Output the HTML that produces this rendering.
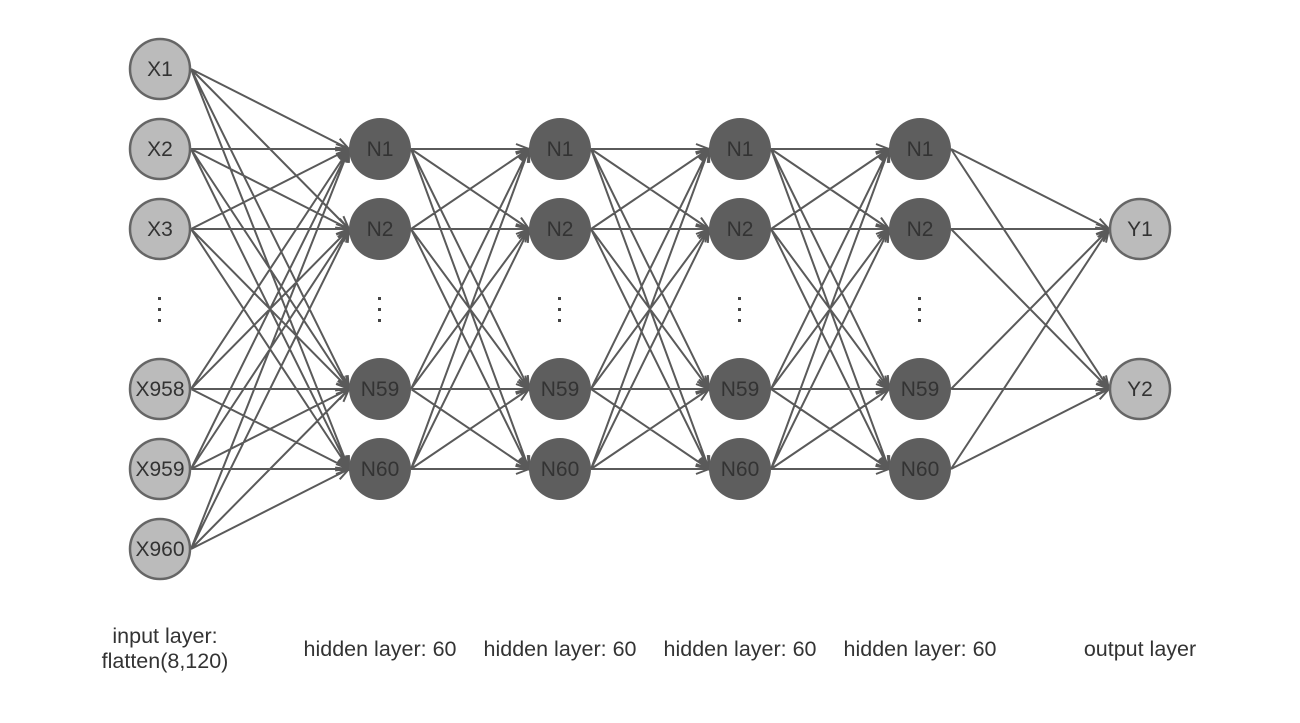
<!DOCTYPE html>
<html><head><meta charset="utf-8"><style>
html,body{margin:0;padding:0;background:#fff;width:1300px;height:723px;overflow:hidden}
svg{display:block}
text{font-family:"Liberation Sans",sans-serif}
</style></head><body>
<svg id="s" width="1300" height="723" viewBox="0 0 1300 723">
<g id="lines" stroke="#5a5a5a" stroke-width="2" fill="none"></g>
<g fill="#444">
<rect x="158" y="297" width="3" height="3"/><rect x="158" y="308" width="3" height="3"/><rect x="158" y="319" width="3" height="3"/>
<rect x="378" y="297" width="3" height="3"/><rect x="378" y="308" width="3" height="3"/><rect x="378" y="319" width="3" height="3"/>
<rect x="558" y="297" width="3" height="3"/><rect x="558" y="308" width="3" height="3"/><rect x="558" y="319" width="3" height="3"/>
<rect x="738" y="297" width="3" height="3"/><rect x="738" y="308" width="3" height="3"/><rect x="738" y="319" width="3" height="3"/>
<rect x="918" y="297" width="3" height="3"/><rect x="918" y="308" width="3" height="3"/><rect x="918" y="319" width="3" height="3"/>
</g>
<g font-size="21.5" fill="#333" text-anchor="middle">
<text x="165" y="643">input layer:</text>
<text x="165" y="668">flatten(8,120)</text>
</g>
<g font-size="21.5" fill="#333" text-anchor="middle">
<text x="380" y="656">hidden layer: 60</text>
<text x="560" y="656">hidden layer: 60</text>
<text x="740" y="656">hidden layer: 60</text>
<text x="920" y="656">hidden layer: 60</text>
<text x="1140" y="656">output layer</text>
</g>
<g font-size="21" text-anchor="middle">
<circle cx="160" cy="69" r="30" fill="#bbb" stroke="#666" stroke-width="2.5"/><text x="160" y="76" fill="#333">X1</text>
<circle cx="160" cy="149" r="30" fill="#bbb" stroke="#666" stroke-width="2.5"/><text x="160" y="156" fill="#333">X2</text>
<circle cx="160" cy="229" r="30" fill="#bbb" stroke="#666" stroke-width="2.5"/><text x="160" y="236" fill="#333">X3</text>
<circle cx="160" cy="389" r="30" fill="#bbb" stroke="#666" stroke-width="2.5"/><text x="160" y="396" fill="#333">X958</text>
<circle cx="160" cy="469" r="30" fill="#bbb" stroke="#666" stroke-width="2.5"/><text x="160" y="476" fill="#333">X959</text>
<circle cx="160" cy="549" r="30" fill="#bbb" stroke="#666" stroke-width="2.5"/><text x="160" y="556" fill="#333">X960</text>
<circle cx="1140" cy="229" r="30" fill="#bbb" stroke="#666" stroke-width="2.5"/><text x="1140" y="236" fill="#333">Y1</text>
<circle cx="1140" cy="389" r="30" fill="#bbb" stroke="#666" stroke-width="2.5"/><text x="1140" y="396" fill="#333">Y2</text>
<g fill="#5e5e5e">
<circle cx="380" cy="149" r="31"/><circle cx="380" cy="229" r="31"/><circle cx="380" cy="389" r="31"/><circle cx="380" cy="469" r="31"/>
<circle cx="560" cy="149" r="31"/><circle cx="560" cy="229" r="31"/><circle cx="560" cy="389" r="31"/><circle cx="560" cy="469" r="31"/>
<circle cx="740" cy="149" r="31"/><circle cx="740" cy="229" r="31"/><circle cx="740" cy="389" r="31"/><circle cx="740" cy="469" r="31"/>
<circle cx="920" cy="149" r="31"/><circle cx="920" cy="229" r="31"/><circle cx="920" cy="389" r="31"/><circle cx="920" cy="469" r="31"/>
</g>
<g fill="#333">
<text x="380" y="156">N1</text><text x="380" y="236">N2</text><text x="380" y="396">N59</text><text x="380" y="476">N60</text>
<text x="560" y="156">N1</text><text x="560" y="236">N2</text><text x="560" y="396">N59</text><text x="560" y="476">N60</text>
<text x="740" y="156">N1</text><text x="740" y="236">N2</text><text x="740" y="396">N59</text><text x="740" y="476">N60</text>
<text x="920" y="156">N1</text><text x="920" y="236">N2</text><text x="920" y="396">N59</text><text x="920" y="476">N60</text>
</g>
</g>
</svg>
<script>
var layers=[[160,[69,149,229,389,469,549]],[380,[149,229,389,469]],[560,[149,229,389,469]],[740,[149,229,389,469]],[920,[149,229,389,469]],[1140,[229,389]]];
var d="";
for(var i=0;i<layers.length-1;i++){
 var a=layers[i],b=layers[i+1];
 a[1].forEach(function(y1){b[1].forEach(function(y2){
  var x1=a[0]+31,x2=b[0]-31;
  d+="M"+x1+" "+y1+"L"+x2+" "+y2;
  var dx=x2-x1,dy=y2-y1,L=Math.sqrt(dx*dx+dy*dy),ux=dx/L,uy=dy/L,h=13,w=5;
  var bx=x2-ux*h,by=y2-uy*h;
  d+="M"+(bx-uy*w).toFixed(1)+" "+(by+ux*w).toFixed(1)+"L"+x2+" "+y2+"L"+(bx+uy*w).toFixed(1)+" "+(by-ux*w).toFixed(1);
 });});
}
var p=document.createElementNS("http://www.w3.org/2000/svg","path");
p.setAttribute("d",d);
document.getElementById("lines").appendChild(p);
</script>
</body></html>
